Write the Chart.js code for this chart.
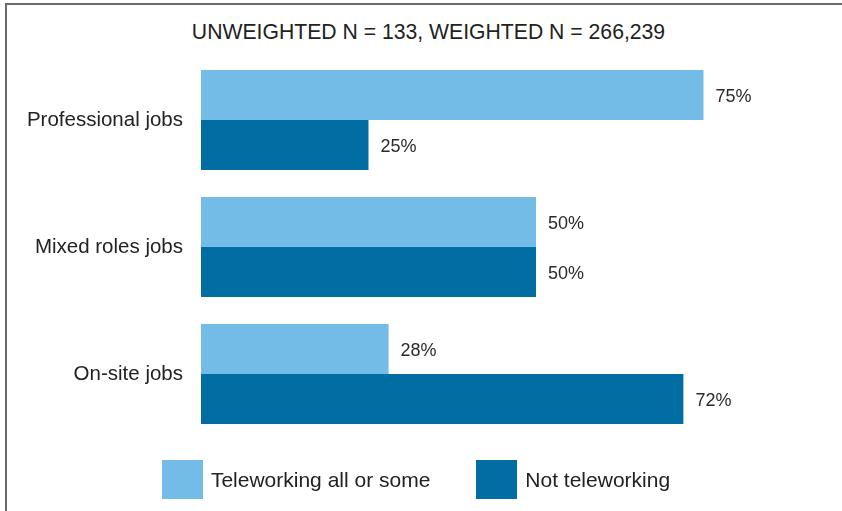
<!DOCTYPE html>
<html>
<head>
<meta charset="utf-8">
<script src="https://cdn.jsdelivr.net/npm/chart.js@4"></script>
<style>
  body { margin: 0; background: #fff; font-family: "Liberation Sans", Arial, sans-serif; }
  .frame { position: absolute; left: 5px; top: 3px; width: 845px; height: 520px;
           border-left: 2px solid #6a6a6a; border-top: 2px solid #6a6a6a; }
  .title { position: absolute; left: 0; width: 857px; top: 20px; text-align: center;
           font-size: 21.2px; color: #222; }
  #legend { position: absolute; left: 0; width: 832px; top: 460px; display: flex;
            justify-content: center; gap: 46px; }
  .item { display: flex; align-items: center; font-size: 21px; color: #222; }
  .swatch { width: 41px; height: 39px; margin-right: 8px; }
  .wrap { position: absolute; left: 0; top: 0; width: 842px; height: 511px; }
</style>
</head>
<body>
<div class="frame"></div>
<div class="title">UNWEIGHTED N = 133, WEIGHTED N = 266,239</div>
<div class="wrap"><canvas id="chart" width="842" height="511"></canvas></div>
<div id="legend"></div>
<script>
// chart data
const categories = ['Professional jobs', 'Mixed roles jobs', 'On-site jobs'];
const teleworking = [75, 50, 28];
const notTeleworking = [25, 50, 72];
const seriesNames = ['Teleworking all or some', 'Not teleworking'];
const colors = ['#74bce8', '#006ea2'];

// write the % value just past the end of each bar
const valueLabels = {
  id: 'valueLabels',
  afterDatasetsDraw(chart) {
    const ctx = chart.ctx;
    ctx.save();
    ctx.font = '18px "Liberation Sans", Arial, sans-serif';
    ctx.fillStyle = '#2a2a2a';
    ctx.textBaseline = 'middle';
    ctx.textAlign = 'left';
    chart.data.datasets.forEach((ds, i) => {
      chart.getDatasetMeta(i).data.forEach((bar, j) => {
        ctx.fillText(ds.data[j] + '%', bar.x + 12, bar.y + 2);
      });
    });
    ctx.restore();
  }
};

const chart = new Chart(document.getElementById('chart'), {
  type: 'bar',
  data: {
    labels: categories,
    datasets: [
      { label: seriesNames[0], data: teleworking, backgroundColor: colors[0] },
      { label: seriesNames[1], data: notTeleworking, backgroundColor: colors[1] }
    ]
  },
  options: {
    indexAxis: 'y',
    responsive: false,
    animation: false,
    layout: { padding: { top: 56.5, bottom: 73.5, left: 0, right: 38 } },
    datasets: { bar: { categoryPercentage: 100 / 127, barPercentage: 1 } },
    scales: {
      x: { display: false, min: 0, max: 90 },
      y: {
        grid: { display: false },
        border: { display: false },
        ticks: { color: '#222', font: { size: 20.5, family: '"Liberation Sans", Arial, sans-serif' }, padding: 10 },
        afterFit(scale) { scale.width = 201; }
      }
    },
    plugins: {
      legend: { display: false },
      tooltip: { enabled: false }
    }
  },
  plugins: [valueLabels]
});

// html legend built from the datasets
const legendEl = document.getElementById('legend');
chart.data.datasets.forEach(ds => {
  const item = document.createElement('div');
  item.className = 'item';
  const sw = document.createElement('span');
  sw.className = 'swatch';
  sw.style.background = ds.backgroundColor;
  item.appendChild(sw);
  item.appendChild(document.createTextNode(ds.label));
  legendEl.appendChild(item);
});
</script>
</body>
</html>
